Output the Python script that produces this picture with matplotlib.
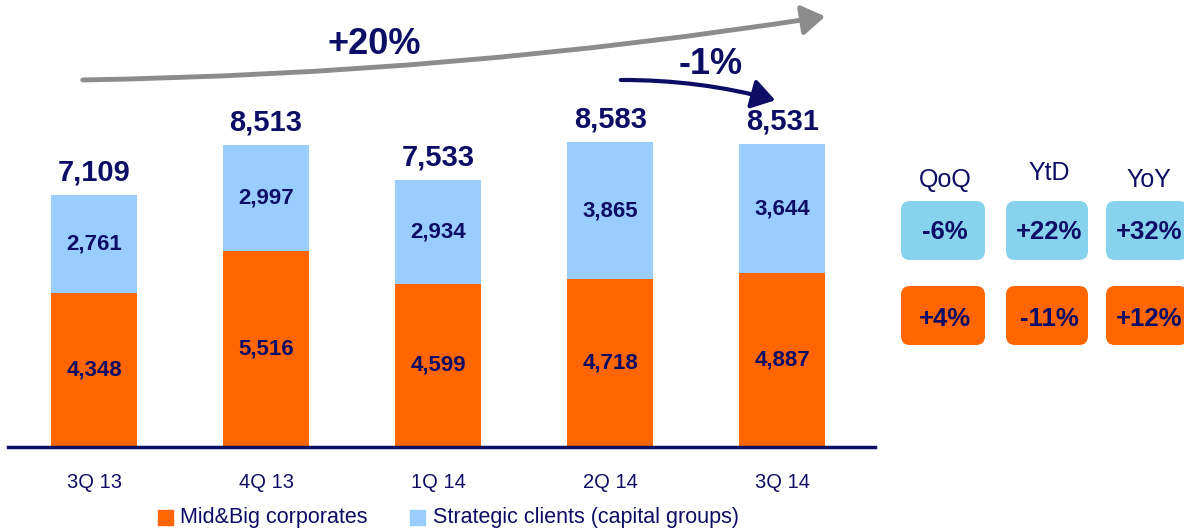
import matplotlib.pyplot as plt
from matplotlib.patches import FancyBboxPatch, FancyArrowPatch, Rectangle

# data
quarters = ["3Q 13", "4Q 13", "1Q 14", "2Q 14", "3Q 14"]
mid_big = [4348, 5516, 4599, 4718, 4887]
strategic = [2761, 2997, 2934, 3865, 3644]
totals = [7109, 8513, 7533, 8583, 8531]
change_heads = ["QoQ", "YtD", "YoY"]
strategic_change = ["-6%", "+22%", "+32%"]
mid_big_change = ["+4%", "-11%", "+12%"]
growth_all = "+20%"
growth_last = "-1%"

ORANGE = "#FF6600"
LIGHT = "#99CCFF"
BOXBLUE = "#87D3EE"
NAVY = "#0D0D66"
GRAY = "#8C8C8C"

plt.rcParams['font.family'] = ['Liberation Sans', 'DejaVu Sans']

W, H = 1184, 529
fig = plt.figure(figsize=(W / 100, H / 100), dpi=100)

# main bar axes (pixel placement from the picture)
ax = fig.add_axes([8 / W, 82 / H, (875 - 8) / W, (447 - 0) / H])
x = list(range(len(quarters)))
ax.bar(x, mid_big, width=0.5, color=ORANGE)
ax.bar(x, strategic, width=0.5, bottom=mid_big, color=LIGHT)
ax.set_xlim(-0.5, 4.54)
ax.set_ylim(0, 12590)

for i in x:
    ax.text(i, mid_big[i] / 2, f"{mid_big[i]:,}", ha="center", va="center",
            fontsize=16, fontweight="bold", color=NAVY)
    ax.text(i, mid_big[i] + strategic[i] / 2, f"{strategic[i]:,}", ha="center",
            va="center", fontsize=16, fontweight="bold", color=NAVY)
    ax.annotate(f"{totals[i]:,}", (i, mid_big[i] + strategic[i]),
                xytext=(0, 6), textcoords="offset points", ha="center",
                va="bottom", fontsize=21, fontweight="bold", color=NAVY)

for s in ["top", "right", "left"]:
    ax.spines[s].set_visible(False)
ax.spines["bottom"].set_color(NAVY)
ax.spines["bottom"].set_linewidth(2.5)
ax.set_yticks([])
ax.set_xticks(x)
ax.set_xticklabels(quarters, fontsize=14.5, color=NAVY)
ax.tick_params(axis="x", length=0, pad=19)

# overlay in pixel units for arrows, boxes and legend
ov = fig.add_axes([0, 0, 1, 1])
ov.set_xlim(0, W)
ov.set_ylim(H, 0)
ov.axis("off")

ov.add_patch(FancyArrowPatch((80, 80), (828, 16), connectionstyle="arc3,rad=0.035",
                             arrowstyle="-|>,head_length=7,head_width=4.5",
                             color=GRAY, lw=3.5, mutation_scale=2))
ov.text(374, 45, growth_all, ha="center", va="center", fontsize=26,
        fontweight="bold", color=NAVY)
ov.add_patch(FancyArrowPatch((618, 80), (778, 101), connectionstyle="arc3,rad=-0.07",
                             arrowstyle="-|>,head_length=7,head_width=4.5",
                             color=NAVY, lw=3, mutation_scale=2))
ov.text(711, 64, growth_last, ha="center", va="center", fontsize=26,
        fontweight="bold", color=NAVY)

box_x = [900, 1005, 1105]
box_w = [86, 84, 84]
head_y = [180, 173, 180]
for j in range(3):
    ov.text(box_x[j] + box_w[j] / 2 + 2, head_y[j], change_heads[j], ha="center",
            va="center", fontsize=18, color=NAVY)
    ov.add_patch(FancyBboxPatch((box_x[j] + 8, 208), box_w[j] - 16, 45,
                                boxstyle="round,pad=7,rounding_size=9",
                                fc=BOXBLUE, ec="none"))
    ov.text(box_x[j] + box_w[j] / 2 + 2, 232, strategic_change[j], ha="center",
            va="center", fontsize=18.5, fontweight="bold", color=NAVY)
    ov.add_patch(FancyBboxPatch((box_x[j] + 8, 293), box_w[j] - 16, 45,
                                boxstyle="round,pad=7,rounding_size=9",
                                fc=ORANGE, ec="none"))
    ov.text(box_x[j] + box_w[j] / 2 + 2, 319, mid_big_change[j], ha="center",
            va="center", fontsize=18.5, fontweight="bold", color=NAVY)

# legend
ov.add_patch(Rectangle((158, 510), 15, 15, color=ORANGE))
ov.text(180, 517, "Mid&Big corporates", ha="left", va="center", fontsize=15.5, color=NAVY)
ov.add_patch(Rectangle((410, 510), 15, 15, color=LIGHT))
ov.text(433, 517, "Strategic clients (capital groups)", ha="left", va="center",
        fontsize=15.5, color=NAVY)

fig.savefig("out.png", dpi=100)
